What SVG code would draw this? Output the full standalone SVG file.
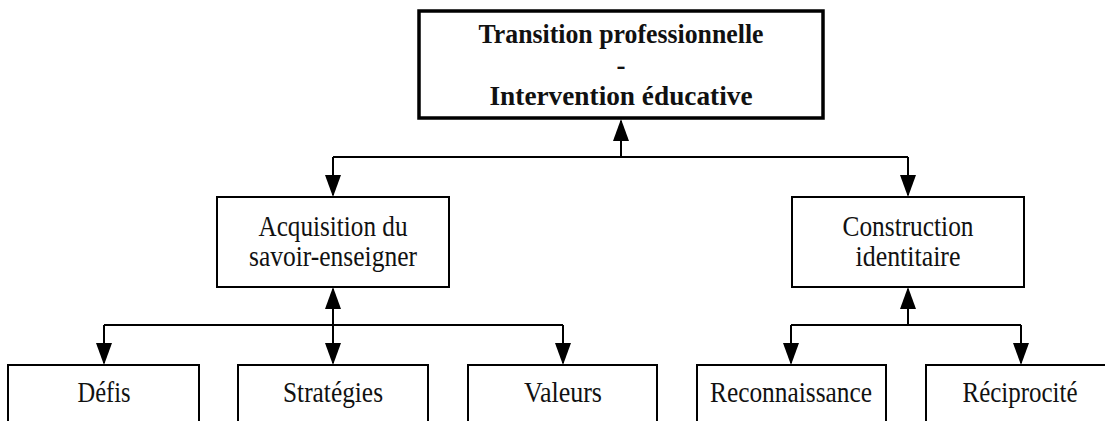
<svg xmlns="http://www.w3.org/2000/svg" width="1105" height="421" viewBox="0 0 1105 421">
<style>
.box{fill:#fff;stroke:#000;stroke-width:2}
.main{fill:#fff;stroke:#000;stroke-width:3.5}
.t{font-family:"Liberation Serif","Times New Roman",serif;font-size:29px;fill:#111;text-anchor:middle}
.tb{font-family:"Liberation Serif","Times New Roman",serif;font-size:27px;font-weight:bold;fill:#111;text-anchor:middle}
.c{fill:none;stroke:#000;stroke-width:2}
.a{fill:none;stroke:#000;stroke-width:2;marker-end:url(#arr)}
</style>
<defs>
<marker id="arr" markerUnits="userSpaceOnUse" markerWidth="22" markerHeight="16" refX="20" refY="8" orient="auto">
<path d="M0,0 L22,8 L0,16 Z" fill="#000"/>
</marker>
</defs>
<rect width="1105" height="421" fill="#fff"/>
<g id="connectors">
<path class="a" d="M621,157 L621,121"/>
<path class="c" d="M333,157 L908,157"/>
<path class="a" d="M333,157 L333,195"/>
<path class="a" d="M908,157 L908,195"/>
<path class="a" d="M333,325 L333,289"/>
<path class="c" d="M104,325 L563,325"/>
<path class="a" d="M104,325 L104,363"/>
<path class="a" d="M333,325 L333,363"/>
<path class="a" d="M563,325 L563,363"/>
<path class="a" d="M908,325 L908,289"/>
<path class="c" d="M791,325 L1021,325"/>
<path class="a" d="M791,325 L791,363"/>
<path class="a" d="M1021,325 L1021,363"/>
</g>
<g id="root">
<rect class="main" x="419" y="11" width="404" height="107"/>
<text class="tb" x="621" y="43" textLength="285" lengthAdjust="spacingAndGlyphs">Transition professionnelle</text>
<text class="tb" x="621" y="74">-</text>
<text class="tb" x="621" y="105" textLength="263" lengthAdjust="spacingAndGlyphs">Intervention éducative</text>
</g>
<g id="acquisition">
<rect class="box" x="217" y="197" width="232" height="90"/>
<text class="t" x="333" y="236" textLength="149" lengthAdjust="spacingAndGlyphs">Acquisition du</text>
<text class="t" x="333" y="266" textLength="168" lengthAdjust="spacingAndGlyphs">savoir-enseigner</text>
</g>
<g id="construction">
<rect class="box" x="792" y="197" width="232" height="90"/>
<text class="t" x="908" y="236" textLength="131" lengthAdjust="spacingAndGlyphs">Construction</text>
<text class="t" x="908" y="266" textLength="105" lengthAdjust="spacingAndGlyphs">identitaire</text>
</g>
<g id="defis">
<rect class="box" x="8" y="365" width="191" height="62"/>
<text class="t" x="104" y="402" textLength="53" lengthAdjust="spacingAndGlyphs">Défis</text>
</g>
<g id="strategies">
<rect class="box" x="238" y="365" width="190" height="62"/>
<text class="t" x="333" y="402" textLength="100" lengthAdjust="spacingAndGlyphs">Stratégies</text>
</g>
<g id="valeurs">
<rect class="box" x="468" y="365" width="189" height="62"/>
<text class="t" x="563" y="402" textLength="78" lengthAdjust="spacingAndGlyphs">Valeurs</text>
</g>
<g id="reconnaissance">
<rect class="box" x="697" y="365" width="189" height="62"/>
<text class="t" x="791" y="402" textLength="162" lengthAdjust="spacingAndGlyphs">Reconnaissance</text>
</g>
<g id="reciprocite">
<rect class="box" x="926" y="365" width="190" height="62"/>
<text class="t" x="1020" y="402" textLength="115" lengthAdjust="spacingAndGlyphs">Réciprocité</text>
</g>
</svg>
